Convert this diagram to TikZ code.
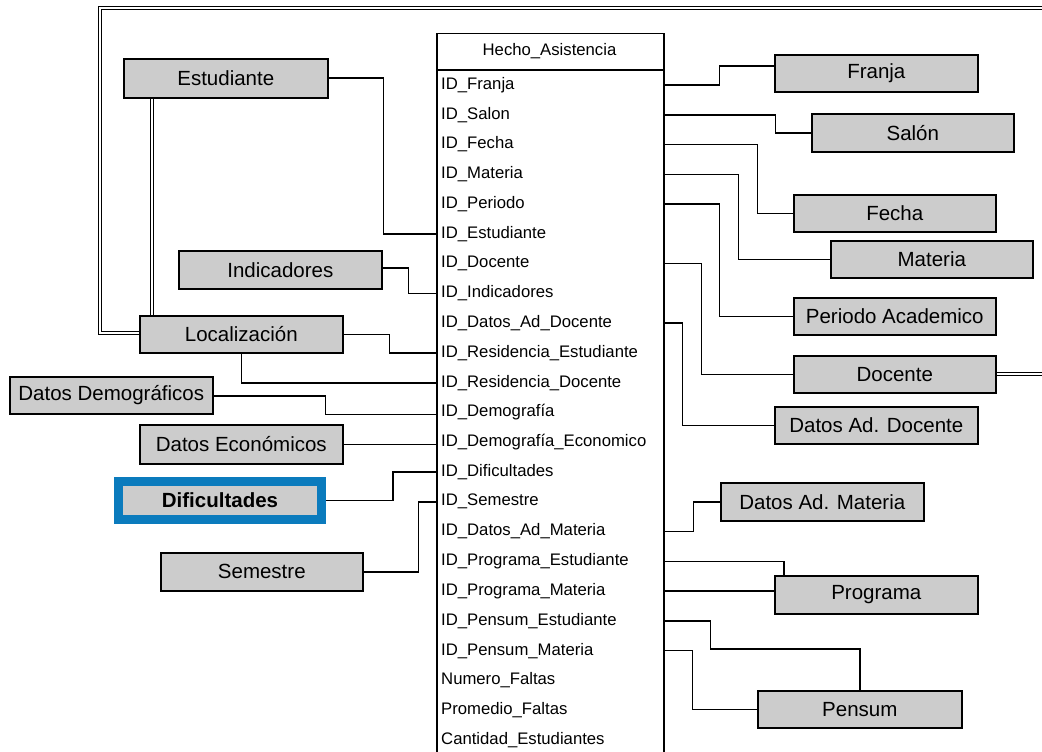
\documentclass[tikz,border=0pt]{standalone}
\usepackage{xcolor}
\usepackage{fontspec}
\setmainfont{Liberation Sans}
\usetikzlibrary{positioning,calc}

\definecolor{boxgray}{HTML}{CCCCCC}
\definecolor{selblue}{HTML}{0B7BBD}

\tikzset{
  entidad/.style={draw=black, line width=1.6pt, fill=boxgray, inner sep=0pt, anchor=north west,
    minimum width=203pt, minimum height=37pt, font=\fontsize{20.5}{24}\selectfont},
  campo/.style={anchor=west, inner sep=0pt, font=\fontsize{16.7}{20}\selectfont},
  enlace/.style={line width=1.6pt},
  doble/.style={double, line width=1.2pt, double distance=1.8pt}
}

\begin{document}
\begin{tikzpicture}[x=1pt, y=-1pt]
    \clip (0,0) rectangle (1042,752);
    \fill[white] (0,0) rectangle (1042,752);

    % tabla de hechos
    \node[draw, line width=1.5pt, anchor=north west, inner sep=0pt, minimum width=227pt, minimum height=760pt] (hecho) at (436,33) {};
    \draw[line width=1.5pt] (436,70) -- (663,70);
    \node[font=\fontsize{16.7}{20}\selectfont] (titulo) at (549.5,51) {Hecho\_Asistencia};
    \foreach \nombre/\texto [count=\i from 0] in {
        idfranja/ID\_Franja, idsalon/ID\_Salon, idfecha/ID\_Fecha, idmateria/ID\_Materia,
        idperiodo/ID\_Periodo, idestudiante/ID\_Estudiante, iddocente/ID\_Docente,
        idindicadores/ID\_Indicadores, iddatosdoc/ID\_Datos\_Ad\_Docente,
        idresest/ID\_Residencia\_Estudiante, idresdoc/ID\_Residencia\_Docente,
        iddemog/ID\_Demografía, iddemoeco/ID\_Demografía\_Economico,
        iddific/ID\_Dificultades, idsemestre/ID\_Semestre, iddatosmat/ID\_Datos\_Ad\_Materia,
        idprogest/ID\_Programa\_Estudiante, idprogmat/ID\_Programa\_Materia,
        idpensest/ID\_Pensum\_Estudiante, idpensmat/ID\_Pensum\_Materia,
        numfaltas/Numero\_Faltas, promfaltas/Promedio\_Faltas, cantest/Cantidad\_Estudiantes}
        \node[campo] (\nombre) at (441, 85+29.77*\i) {\texto};

    % dimensiones de la izquierda
    \node[entidad, minimum width=204pt, minimum height=39pt] (estudiante) at (123,58) {Estudiante};
    \node[entidad, minimum height=38pt] (indicadores) at (178,250) {Indicadores};
    \node[entidad] (localizacion) at (139,315) {Localización};
    \node[entidad] (demograficos) at (9,376) {Datos Demográficos};
    \node[entidad, minimum height=39pt] (economicos) at (139,424) {Datos Económicos};
    \node[entidad, draw=selblue, line width=9pt, minimum height=38pt, font=\fontsize{20.5}{24}\selectfont\bfseries] (dificultades) at (114,477) {Dificultades};
    \node[entidad, minimum width=202pt, minimum height=38pt] (semestre) at (160,552) {Semestre};

    % dimensiones de la derecha
    \node[entidad] (franja) at (774,54) {Franja};
    \node[entidad, minimum width=202pt, minimum height=38pt] (salon) at (811,113) {Salón};
    \node[entidad, minimum width=202pt] (fecha) at (793,194) {Fecha};
    \node[entidad, minimum width=202pt] (materia) at (830,240) {Materia};
    \node[entidad, minimum width=202pt] (periodo) at (793,297) {Periodo Academico};
    \node[entidad, minimum width=202pt] (docente) at (793,355) {Docente};
    \node[entidad] (datosdoc) at (774,406) {Datos Ad. Docente};
    \node[entidad, minimum height=38pt] (datosmat) at (720,482) {Datos Ad. Materia};
    \node[entidad, minimum height=38pt] (programa) at (774,575) {Programa};
    \node[entidad, minimum width=204pt] (pensum) at (757,690) {Pensum};

    % enlaces izquierda
    \draw[enlace] (estudiante.east) -- ++(55,0) |- (idestudiante -| hecho.west);
    \draw[enlace] ([yshift=2pt]indicadores.east) -- ++(26,0) |- (idindicadores -| hecho.west);
    \draw[enlace] (localizacion.east) -- ++(46,0) |- (idresest -| hecho.west);
    \draw[enlace] (localizacion.south) |- (idresdoc -| hecho.west);
    \draw[enlace] ([yshift=-0.5pt]demograficos.east) -- ++(112,0) |- ([yshift=-2pt]iddemog -| hecho.west);
    \draw[enlace] (economicos.east) -- (economicos.east -| hecho.west);
    \draw[enlace] (dificultades.east) -- ++(67,0) |- (iddific -| hecho.west);
    \draw[enlace] (semestre.east) -- ++(55,0) |- (idsemestre -| hecho.west);

    % enlaces derecha
    \draw[enlace] (idfranja -| hecho.east) -- ++(55,0) |- ([yshift=7.5pt]franja.west);
    \draw[enlace] (idsalon -| hecho.east) -- ++(111,0) |- (salon.west);
    \draw[enlace] (idfecha -| hecho.east) -- ++(93,0) |- (fecha.west);
    \draw[enlace] (idmateria -| hecho.east) -- ++(74,0) |- (materia.west);
    \draw[enlace] (idperiodo -| hecho.east) -- ++(55,0) |- (periodo.west);
    \draw[enlace] (iddocente -| hecho.east) -- ++(37,0) |- (docente.west);
    \draw[enlace] (iddatosdoc -| hecho.east) -- ++(18,0) |- (datosdoc.west);
    \draw[enlace] (iddatosmat -| hecho.east) -- ++(29,0) |- (datosmat.west);
    \draw[enlace] (idprogest -| hecho.east) -| ([xshift=10pt]programa.north west);
    \draw[enlace] (idprogmat -| hecho.east) -- (idprogmat -| programa.west);
    \draw[enlace] (idpensest -| hecho.east) -- ++(46,0) -- ++(0,28) -| (pensum.north);
    \draw[enlace] (idpensmat -| hecho.east) -- ++(28,0) |- (pensum.west);

    % relaciones dobles
    \coordinate (borde) at (1060,8);
    \draw[doble] ([xshift=29pt]estudiante.south west) -- ([xshift=29pt]estudiante.south west |- localizacion.north);
    \draw[doble] ([yshift=1.5pt]localizacion.west) -- ++(-39,0) |- (borde) |- (docente.east);
\end{tikzpicture}
\end{document}
